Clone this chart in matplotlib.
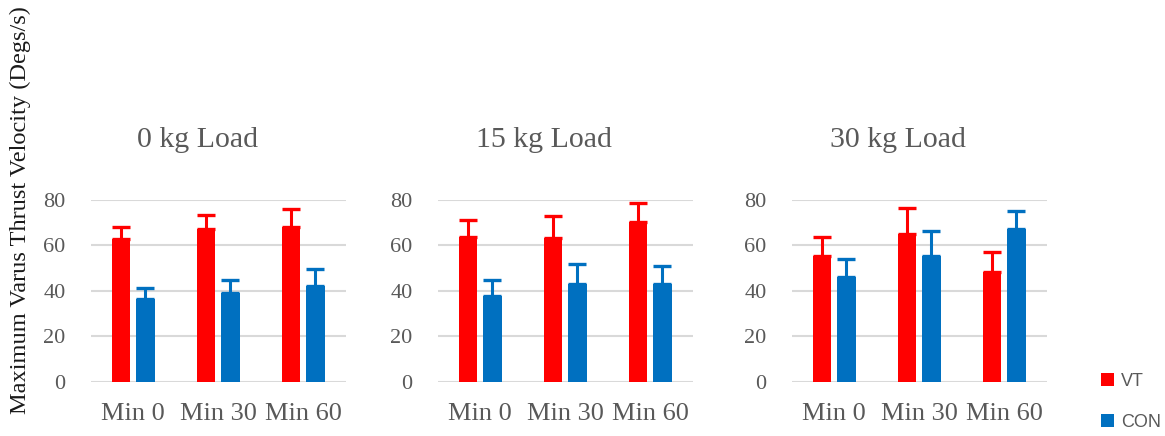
import numpy as np
import matplotlib
matplotlib.use("Agg")
import matplotlib.pyplot as plt
from matplotlib.patches import Patch

# Mean varus thrust velocity per load, with upper error (SD) for each group
times = ['Min 0', 'Min 30', 'Min 60']
loads = ['0 kg Load', '15 kg Load', '30 kg Load']

vt_0kg = [62.7, 67.1, 68.0]
vt_0kg_err = [5.2, 6.4, 7.9]
con_0kg = [36.4, 39.0, 42.3]
con_0kg_err = [4.8, 5.9, 7.3]

vt_15kg = [63.7, 63.4, 70.2]
vt_15kg_err = [7.6, 9.7, 8.6]
con_15kg = [37.6, 42.9, 42.9]
con_15kg_err = [7.0, 9.1, 8.0]

vt_30kg = [55.2, 64.9, 48.2]
vt_30kg_err = [8.5, 11.7, 8.7]
con_30kg = [46.2, 55.5, 67.1]
con_30kg_err = [7.8, 11.0, 8.2]

vt_means = [vt_0kg, vt_15kg, vt_30kg]
vt_errs = [vt_0kg_err, vt_15kg_err, vt_30kg_err]
con_means = [con_0kg, con_15kg, con_30kg]
con_errs = [con_0kg_err, con_15kg_err, con_30kg_err]

red = '#FF0000'
blue = '#0070C0'
grey = '#595959'
serif = 'Liberation Serif'

fig = plt.figure(figsize=(11.65, 4.36), dpi=100)

lefts = [90.7, 437.7, 791.7]
x = np.arange(len(times))
w = 0.22
off = 0.143

for i in range(3):
    ax = fig.add_axes([lefts[i] / 1165, 54.3 / 436, 255 / 1165, 181.7 / 436])
    for vals, errs, col, sgn in [(vt_means[i], vt_errs[i], red, -1), (con_means[i], con_errs[i], blue, 1)]:
        ax.bar(x + sgn * off, vals, width=w, color=col, zorder=3)
        ax.errorbar(x + sgn * off, vals, yerr=[np.zeros(3), errs], fmt='none',
                    ecolor=col, elinewidth=2.2, capsize=6.3, capthick=2.4,
                    zorder=4, clip_on=False)
    ax.set_xlim(-0.5, 2.5)
    ax.set_ylim(0, 80)
    ax.set_yticks([0, 20, 40, 60, 80])
    ax.set_xticks(x)
    ax.set_xticklabels(times)
    ax.grid(axis='y', color='#D9D9D9', linewidth=1.5, zorder=0)
    for s in ax.spines.values():
        s.set_visible(False)
    ax.tick_params(axis='both', length=0, colors=grey)
    ax.tick_params(axis='y', pad=18, labelsize=16)
    ax.tick_params(axis='x', pad=15, labelsize=19)
    for lab in ax.get_xticklabels() + ax.get_yticklabels():
        lab.set_fontfamily(serif)
    ax.text(0.417, 1.33, loads[i], transform=ax.transAxes, ha='center', va='center',
            fontsize=21.5, color=grey, fontfamily=serif)

fig.text(20 / 1165, 1 - 210 / 436, 'Maximum Varus Thrust Velocity (Degs/s)',
         rotation=90, ha='center', va='center', fontsize=17.6, color='#1a1a1a',
         fontfamily=serif)

handles = [Patch(facecolor=red), Patch(facecolor=blue)]
fig.legend(handles, ['VT', 'CON'], loc='upper left', bbox_to_anchor=(1088 / 1165, 1 - 360 / 436),
           frameon=False, handlelength=0.75, handleheight=0.75, handletextpad=0.4,
           labelspacing=1.35, borderpad=0.2, prop={'family': 'Liberation Sans', 'size': 13},
           labelcolor=grey)

fig.savefig('out.png', dpi=100)
